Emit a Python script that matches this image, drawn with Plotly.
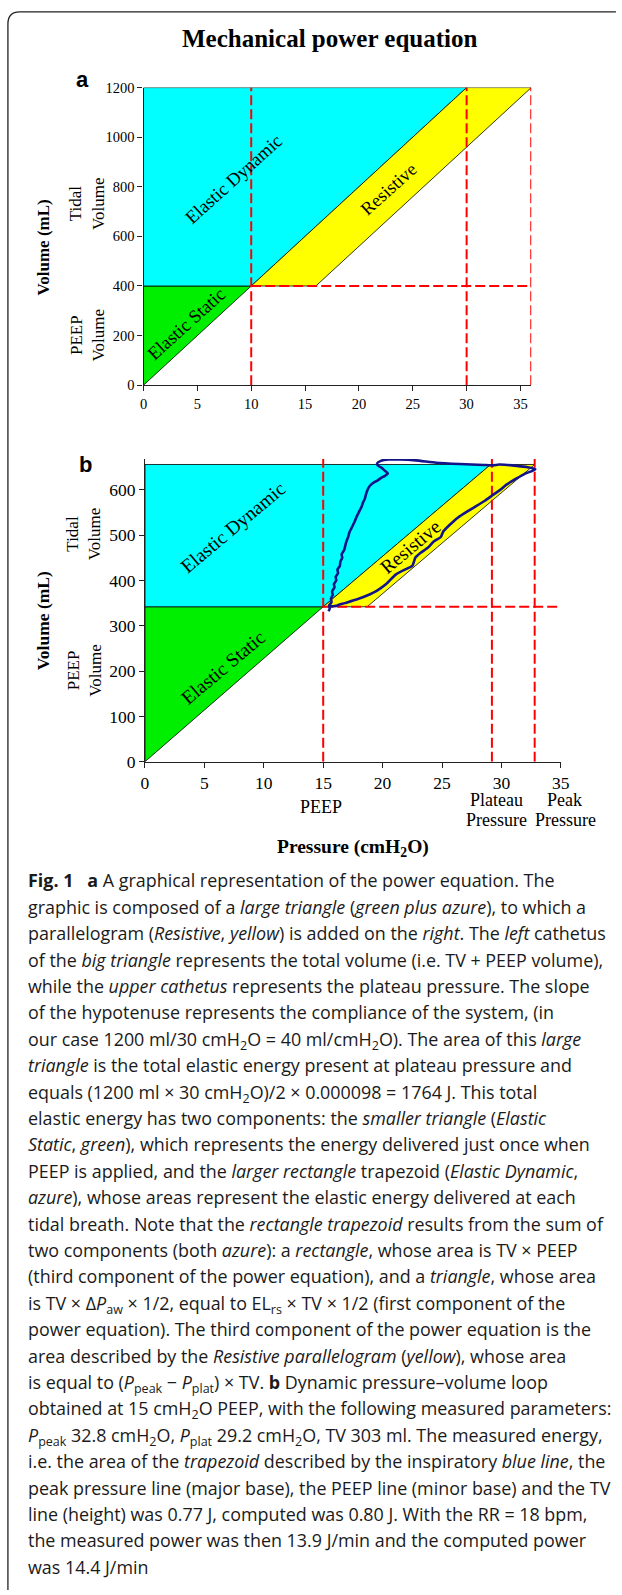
import plotly.graph_objects as go

W, H = 622, 1595

# ---------------- data ----------------
# Panel a (theoretical power equation)
A_PEEP = 10.0          # cmH2O
A_PEEP_VOL = 400.0     # mL
A_PLAT = 30.0          # cmH2O
A_PEAK = 36.0          # cmH2O
A_TOP = 1200.0         # mL
A_XTICKS = [0, 5, 10, 15, 20, 25, 30, 35]
A_YTICKS = [0, 200, 400, 600, 800, 1000, 1200]

# Panel b (measured loop at 15 cmH2O PEEP)
B_PEEP = 15.0
B_PEEP_VOL = 342.0
B_PLAT = 29.2
B_PLAT_VERTEX = 29.1
B_PEAK = 32.8
B_TOP = 656.0
B_YMAX = 668.0
B_XTICKS = [0, 5, 10, 15, 20, 25, 30, 35]
B_YTICKS = [0, 100, 200, 300, 400, 500, 600]

LOOP_P = [15.45, 15.55, 15.5, 15.7, 15.65, 15.8, 15.75, 15.95, 15.9, 16.1, 16.05, 16.25, 16.2, 16.4,
          16.45, 16.6, 16.55, 16.75, 16.85, 16.95, 17.1, 17.2, 17.35, 17.5, 17.65, 17.8, 17.95, 18.1,
          18.25, 18.35, 18.5, 18.6, 18.7, 18.85, 19.05, 19.3, 19.6, 19.85, 20.2, 20.45, 20.2, 19.95,
          19.6, 19.55, 19.85, 20.5, 21.5, 22.8, 24.5, 26.5, 28.5, 29.3, 29.8, 30.5, 31.3, 32.2, 32.85,
          32.6, 32.0, 31.2, 30.4, 29.9, 29.35, 28.6, 27.8, 27.1, 26.3, 25.7, 25.1, 24.9, 24.3, 23.8,
          23.2, 22.75, 22.5, 21.8, 21.1, 20.3, 19.5, 18.9, 17.8, 16.8, 16.2, 15.8, 15.6]
LOOP_V = [332, 338, 345, 352, 360, 368, 376, 385, 392, 400, 408, 416, 424, 432,
          442, 450, 458, 466, 476, 486, 496, 506, 514, 522, 530, 540, 548, 556,
          564, 572, 580, 590, 598, 606, 612, 617, 621, 626, 631, 636, 642, 648,
          654, 659, 664, 667, 667, 665, 660, 657, 655, 654, 656, 655, 653, 650, 646,
          642, 636, 624, 611, 600, 590, 576, 563, 552, 538, 524, 508, 496, 486, 472,
          461, 450, 432, 423, 413, 392, 377, 369, 358, 350, 345, 343, 343]

NB = "\u00a0"
CAPTION = [
    f"<b>Fig. 1</b>{NB}{NB}{NB}<b>a</b> A graphical representation of the power equation. The",
    "graphic is composed of a <i>large triangle</i> (<i>green plus azure</i>), to which a",
    "parallelogram (<i>Resistive</i>, <i>yellow</i>) is added on the <i>right</i>. The <i>left</i> cathetus",
    "of the <i>big triangle</i> represents the total volume (i.e. TV + PEEP volume),",
    "while the <i>upper cathetus</i> represents the plateau pressure. The slope",
    "of the hypotenuse represents the compliance of the system, (in",
    "our case 1200 ml/30 cmH<sub>2</sub>O = 40 ml/cmH<sub>2</sub>O). The area of this <i>large</i>",
    "<i>triangle</i> is the total elastic energy present at plateau pressure and",
    "equals (1200 ml × 30 cmH<sub>2</sub>O)/2 × 0.000098 = 1764 J. This total",
    "elastic energy has two components: the <i>smaller triangle</i> (<i>Elastic</i>",
    "<i>Static</i>, <i>green</i>), which represents the energy delivered just once when",
    "PEEP is applied, and the <i>larger rectangle</i> trapezoid (<i>Elastic Dynamic</i>,",
    "<i>azure</i>), whose areas represent the elastic energy delivered at each",
    "tidal breath. Note that the <i>rectangle trapezoid</i> results from the sum of",
    "two components (both <i>azure</i>): a <i>rectangle</i>, whose area is TV × PEEP",
    "(third component of the power equation), and a <i>triangle</i>, whose area",
    "is TV × Δ<i>P</i><sub>aw</sub> × 1/2, equal to EL<sub>rs</sub> × TV × 1/2 (first component of the",
    "power equation). The third component of the power equation is the",
    "area described by the <i>Resistive parallelogram</i> (<i>yellow</i>), whose area",
    "is equal to (<i>P</i><sub>peak</sub> − <i>P</i><sub>plat</sub>) × TV. <b>b</b> Dynamic pressure–volume loop",
    "obtained at 15 cmH<sub>2</sub>O PEEP, with the following measured parameters:",
    "<i>P</i><sub>peak</sub> 32.8 cmH<sub>2</sub>O, <i>P</i><sub>plat</sub> 29.2 cmH<sub>2</sub>O, TV 303 ml. The measured energy,",
    "i.e. the area of the <i>trapezoid</i> described by the inspiratory <i>blue line</i>, the",
    "peak pressure line (major base), the PEEP line (minor base) and the TV",
    "line (height) was 0.77 J, computed was 0.80 J. With the RR = 18 bpm,",
    "the measured power was then 13.9 J/min and the computed power",
    "was 14.4 J/min",
]

# ---------------- styling ----------------
SERIF = "Liberation Serif"
SANS = "Liberation Sans"
CAP_FONT = "Open Sans"
CYAN = "#00FFFF"
GREEN = "#00EE00"
YELLOW = "#FFFF00"
RED = "#FF0000"
LOOP_COLOR = "#14148a"


def fx(px):
    return px / W


def fy(py):
    return 1 - py / H


fig = go.Figure()


def add_panel(xa, ya, peep, peep_vol, plat_v, plat_d, peak, top, ymax, xmax):
    # green: elastic static
    fig.add_trace(go.Scatter(x=[0, peep, 0, 0], y=[0, peep_vol, peep_vol, 0], fill="toself",
                             fillcolor=GREEN, mode="lines", line=dict(color="black", width=0.8),
                             xaxis=xa, yaxis=ya, showlegend=False, hoverinfo="skip"))
    # cyan: elastic dynamic
    fig.add_trace(go.Scatter(x=[0, peep, plat_v, 0, 0], y=[peep_vol, peep_vol, top, top, peep_vol],
                             fill="toself", fillcolor=CYAN, mode="lines",
                             line=dict(color="black", width=0.8),
                             xaxis=xa, yaxis=ya, showlegend=False, hoverinfo="skip"))
    # yellow: resistive parallelogram
    shift = peak - plat_v
    fig.add_trace(go.Scatter(x=[peep, plat_v, peak, peep + shift, peep],
                             y=[peep_vol, top, top, peep_vol, peep_vol],
                             fill="toself", fillcolor=YELLOW, mode="lines",
                             line=dict(color="black", width=0.8),
                             xaxis=xa, yaxis=ya, showlegend=False, hoverinfo="skip"))
    dash = dict(color=RED, width=2, dash="10px,4px")
    for xv in (peep, plat_d, peak):
        fig.add_trace(go.Scatter(x=[xv, xv], y=[0, ymax], mode="lines", line=dash,
                                 xaxis=xa, yaxis=ya, showlegend=False, hoverinfo="skip"))
    fig.add_trace(go.Scatter(x=[peep, xmax], y=[peep_vol, peep_vol], mode="lines", line=dash,
                             xaxis=xa, yaxis=ya, showlegend=False, hoverinfo="skip"))


add_panel("x", "y", A_PEEP, A_PEEP_VOL, A_PLAT, A_PLAT, A_PEAK, A_TOP, A_TOP, A_PEAK)
add_panel("x2", "y2", B_PEEP, B_PEEP_VOL, B_PLAT_VERTEX, B_PLAT, B_PEAK, B_TOP, B_YMAX, 35.2)

fig.add_trace(go.Scatter(x=LOOP_P, y=LOOP_V, mode="lines",
                         line=dict(color=LOOP_COLOR, width=2.6, shape="spline", smoothing=0.4),
                         xaxis="x2", yaxis="y2", showlegend=False, hoverinfo="skip"))

axis_common = dict(showgrid=False, zeroline=False, showline=True, linecolor="#222", linewidth=1.2,
                   ticks="outside", ticklen=5, tickwidth=1, tickcolor="#222")

fig.update_layout(
    width=W, height=H,
    margin=dict(l=0, r=0, t=0, b=0),
    paper_bgcolor="white", plot_bgcolor="rgba(0,0,0,0)",
    xaxis=dict(domain=[fx(142.5), fx(538.5)], range=[0, 36], tickvals=A_XTICKS, anchor="y",
               tickfont=dict(family=SERIF, size=14.5, color="black"), **axis_common),
    yaxis=dict(domain=[fy(381.5), fy(80.5)], range=[0, 1200], tickvals=A_YTICKS, anchor="x",
               tickfont=dict(family=SERIF, size=14.5, color="black"), **axis_common),
    xaxis2=dict(domain=[fx(144), fx(568.7)], range=[0, 35], tickvals=B_XTICKS, anchor="y2",
                tickfont=dict(family=SERIF, size=17.5, color="black"), **axis_common),
    yaxis2=dict(domain=[fy(762.3), fy(456.2)], range=[0, B_YMAX], tickvals=B_YTICKS, anchor="x2",
                tickfont=dict(family=SERIF, size=17.5, color="black"), **axis_common),
)

ann = []


def txt(text, x, y, size, family=SERIF, xref="paper", yref="paper", angle=0,
        xanchor="center", yanchor="middle", color="black"):
    ann.append(dict(text=text, x=x, y=y, xref=xref, yref=yref, showarrow=False,
                    textangle=angle, xanchor=xanchor, yanchor=yanchor,
                    font=dict(family=family, size=size, color=color)))


# title and panel letters
txt("<b>Mechanical power equation</b>", fx(332), fy(31), 25)
txt("<b>a</b>", fx(80), fy(72), 22, family=SANS)
txt("<b>b</b>", fx(83), fy(462), 22, family=SANS)

# y titles
txt("<b>Volume (mL)</b>", fx(40), fy(242), 17, angle=-90)
txt("<b>Volume (mL)</b>", fx(40), fy(620), 17.5, angle=-90)
txt("Tidal<br>Volume", fx(85), fy(198), 17, angle=-90)
txt("PEEP<br>Volume", fx(85), fy(331), 17, angle=-90)
txt("Tidal<br>Volume", fx(82), fy(532), 17, angle=-90)
txt("PEEP<br>Volume", fx(82), fy(670), 17, angle=-90)

# in-plot labels
txt("Elastic Dynamic", 8.4, 833, 18.5, xref="x", yref="y", angle=-42)
txt("Elastic Static", 4.0, 246, 18.5, xref="x", yref="y", angle=-42)
txt("Resistive", 22.8, 790, 18.5, xref="x", yref="y", angle=-42)
txt("Elastic Dynamic", 7.4, 518, 19.5, xref="x2", yref="y2", angle=-40)
txt("Elastic Static", 6.6, 208, 19.5, xref="x2", yref="y2", angle=-40)
txt("Resistive", 22.4, 474, 19.5, xref="x2", yref="y2", angle=-40)

# x labels under panel b
txt("PEEP", fx(324), fy(808), 18)
txt("Plateau", fx(503), fy(801.5), 18)
txt("Pressure", fx(503), fy(821.5), 18)
txt("Peak", fx(572), fy(801.5), 18)
txt("Pressure", fx(573), fy(821.5), 18)
txt("<b>Pressure (cmH<sub>2</sub>O)</b>", fx(356), fy(850), 19.5)

# caption
for i, line in enumerate(CAPTION):
    center = 881.7 + 26.7 * i
    txt(line, fx(22), fy(center - 13.5), 17.9, family=CAP_FONT, xanchor="left", yanchor="top",
        color="#1a1a1a")

fig.update_layout(annotations=ann)

# rounded frame (open at right/bottom as in the page crop)
frame = (f"M {fx(4)} {fy(1600)} L {fx(4)} {fy(16)} Q {fx(4)} {fy(4)} {fx(16)} {fy(4)} "
         f"L {fx(625)} {fy(4)}")
fig.add_shape(type="path", path=frame, xref="paper", yref="paper",
              line=dict(color="#222", width=1.3))

fig.write_html("out.html", config={"displayModeBar": False},
               post_script="document.body.style.margin='0';document.body.style.overflow='hidden';")
